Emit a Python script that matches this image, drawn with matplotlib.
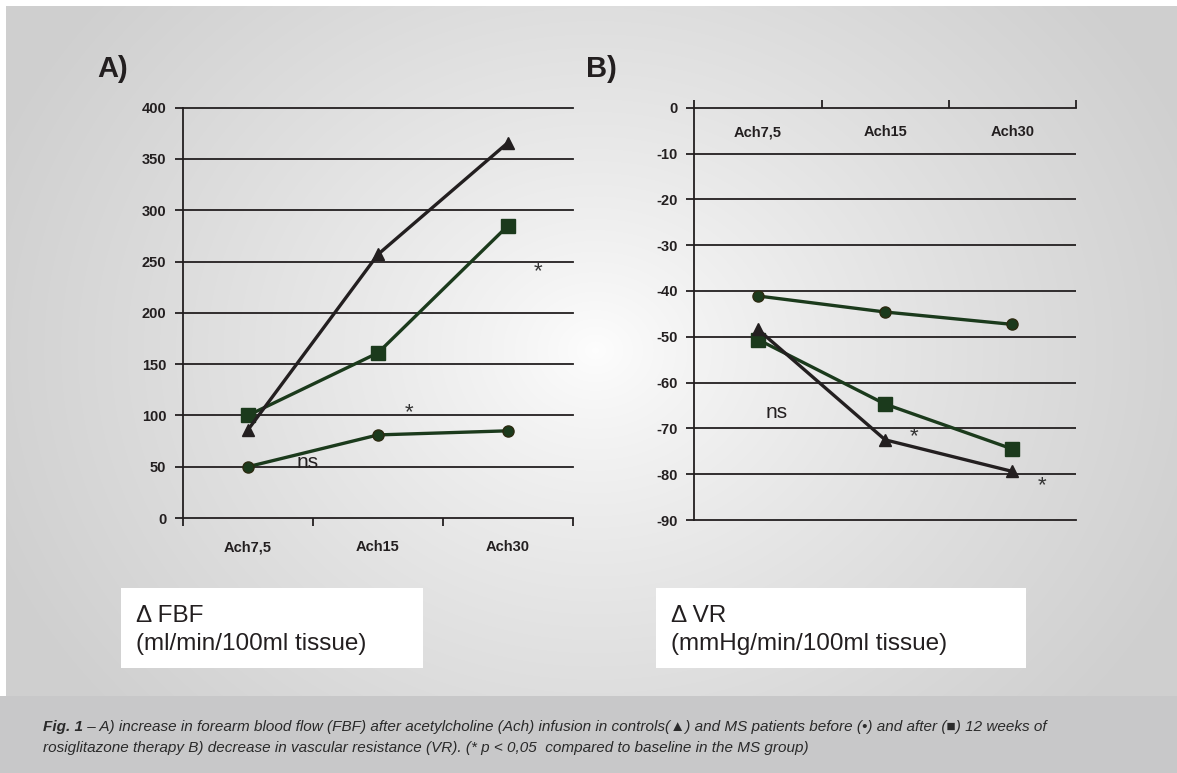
import numpy as np
import matplotlib.pyplot as plt
import matplotlib.transforms as mtransforms

plt.rcParams['axes.unicode_minus'] = False

# data
categories = ['Ach7,5', 'Ach15', 'Ach30']
fbf_controls = [86, 257, 366]
fbf_before = [50, 81, 85]
fbf_after = [100, 161, 285]
vr_controls = [-48.4, -72.5, -79.4]
vr_before = [-41.1, -44.6, -47.3]
vr_after = [-50.6, -64.7, -74.5]
fbf_ticks = [0, 50, 100, 150, 200, 250, 300, 350, 400]
vr_ticks = [0, -10, -20, -30, -40, -50, -60, -70, -80, -90]

DARK = '#231f20'
GREEN = '#1b3a1c'
W, H = 1177, 773

fig = plt.figure(figsize=(W / 100, H / 100), dpi=100)
fig.patch.set_facecolor('white')

# gradient background panel
bg = fig.add_axes([6 / W, 1 - 696 / H, 1 - 6 / W, (696 - 6) / H])
yy, xx = np.mgrid[6:696, 6:W]
r = np.sqrt(((xx - 595) / 1.0) ** 2 + ((yy - 350) / 0.85) ** 2)
g = 0.995 - 0.18 * np.clip(r / 640, 0, 1) ** 0.8
bg.imshow(np.dstack([g, g, g]), aspect='auto', extent=[0, 1, 0, 1])
bg.set_axis_off()

# caption band
cap = fig.add_axes([0, 0, 1, (H - 696) / H])
cap.set_facecolor('#c8c8c9')
cap.set_xticks([])
cap.set_yticks([])
for s in cap.spines.values():
    s.set_visible(False)

tick_font = dict(fontsize=10.5, fontweight='bold', color=DARK, family='Liberation Sans')


def style_axis(ax):
    ax.patch.set_alpha(0)
    ax.spines['right'].set_visible(False)
    for s in ax.spines.values():
        s.set_color(DARK)
        s.set_linewidth(1.3)
    ax.tick_params(axis='y', length=6, width=1.3, color=DARK, pad=6)
    for lab in ax.get_yticklabels():
        lab.set(**tick_font)
    ax.set_xlim(-0.5, 2.5)


x = np.arange(len(categories))

# ---------- panel A ----------
axA = fig.add_axes([183 / W, 1 - 518 / H, (573 - 183) / W, (518 - 107.7) / H])
axA.set_ylim(0, 400)
axA.set_yticks(fbf_ticks)
axA.spines['top'].set_visible(False)
for t in fbf_ticks[1:]:
    axA.axhline(t, color=DARK, lw=1.3, zorder=1, clip_on=False)
axA.set_xticks(x)
axA.set_xticklabels(categories)
axA.set_xticks([-0.5, 0.5, 1.5, 2.5], minor=True)
axA.tick_params(axis='x', which='major', length=0, pad=16)
axA.tick_params(axis='x', which='minor', length=6, width=1.3, color=DARK)
style_axis(axA)
for lab in axA.get_xticklabels():
    lab.set(**tick_font)

axA.plot(x, fbf_after, color=GREEN, lw=2.4, marker='s', ms=10, zorder=3)
axA.plot(x, fbf_before, color=GREEN, lw=2.4, marker='o', ms=8, mfc=GREEN, mec='#2b2a10', zorder=3)
axA.plot(x, fbf_controls, color=DARK, lw=2.4, marker='^', ms=9, zorder=4)
axA.text(2.23, 240, '*', fontsize=16, color='#333333', ha='center', va='center', family='Liberation Sans')
axA.text(1.24, 103, '*', fontsize=16, color='#333333', ha='center', va='center', family='Liberation Sans')
axA.text(0.46, 54, 'ns', fontsize=15, color=DARK, ha='center', va='center', family='Liberation Sans')

# ---------- panel B ----------
axB = fig.add_axes([694.3 / W, 1 - 520 / H, (1076 - 694.3) / W, (520 - 107.7) / H])
axB.set_ylim(-90, 0)
axB.set_yticks(vr_ticks)
for t in vr_ticks[1:-1]:
    axB.axhline(t, color=DARK, lw=1.3, zorder=1)
axB.xaxis.set_ticks_position('top')
axB.set_xticks([-0.5, 0.5, 1.5, 2.5])
axB.set_xticklabels([])
axB.tick_params(axis='x', length=6, width=1.3, color=DARK, direction='out')
style_axis(axB)
trans = mtransforms.blended_transform_factory(axB.transData, axB.transAxes)
for xi, c in zip(x, categories):
    axB.text(xi, 0.94, c, transform=trans, ha='center', va='center', **tick_font)

axB.plot(x, vr_before, color=GREEN, lw=2.4, marker='o', ms=8, mfc=GREEN, mec='#2b2a10', zorder=3)
axB.plot(x, vr_after, color=GREEN, lw=2.4, marker='s', ms=10, zorder=3)
axB.plot(x, vr_controls, color=DARK, lw=2.4, marker='^', ms=9, zorder=4)
axB.text(0.15, -66.5, 'ns', fontsize=15, color=DARK, ha='center', va='center', family='Liberation Sans')
axB.text(1.23, -71.8, '*', fontsize=16, color='#333333', ha='center', va='center', family='Liberation Sans')
axB.text(2.23, -82.5, '*', fontsize=16, color='#333333', ha='center', va='center', family='Liberation Sans')

# panel letters
fig.text(113 / W, 1 - 69 / H, 'A)', fontsize=21, fontweight='bold', color=DARK,
         ha='center', va='center', family='Liberation Sans')
fig.text(601 / W, 1 - 69 / H, 'B)', fontsize=21, fontweight='bold', color=DARK,
         ha='center', va='center', family='Liberation Sans')

# white unit boxes
for (x0, x1), lines in [((121, 423), '\u0394 FBF\n(ml/min/100ml tissue)'),
                        ((656, 1026), '\u0394 VR\n(mmHg/min/100ml tissue)')]:
    box = fig.add_axes([x0 / W, 1 - 668 / H, (x1 - x0) / W, 80 / H])
    box.set_facecolor('white')
    box.set_xticks([])
    box.set_yticks([])
    for s in box.spines.values():
        s.set_visible(False)
    fig.text((x0 + 15) / W, 1 - 630 / H, lines, fontsize=17.5, color=DARK, ha='left', va='center',
             linespacing=1.3, family=['Liberation Sans', 'DejaVu Sans'])

# caption
cap_fam = ['Liberation Sans Narrow', 'Liberation Sans', 'DejaVu Sans']
t1 = fig.text(43 / W, 1 - 727 / H, 'Fig. 1', fontsize=11, fontstyle='italic', fontweight='bold',
              color='#2a2a2a', va='center', family=cap_fam)
fig.canvas.draw()
bb = t1.get_window_extent()
fig.text(bb.x1 / W, 1 - 727 / H,
         ' \u2013 A) increase in forearm blood flow (FBF) after acetylcholine (Ach) infusion in controls(\u25b2) '
         'and MS patients before (\u2022) and after (\u25a0) 12 weeks of',
         fontsize=11, fontstyle='italic', color='#2a2a2a', va='center', family=cap_fam)
fig.text(43 / W, 1 - 748 / H,
         'rosiglitazone therapy B) decrease in vascular resistance (VR). (* p < 0,05  compared to baseline in the MS group)',
         fontsize=11, fontstyle='italic', color='#2a2a2a', va='center', family=cap_fam)

fig.savefig('out.png', dpi=100)
